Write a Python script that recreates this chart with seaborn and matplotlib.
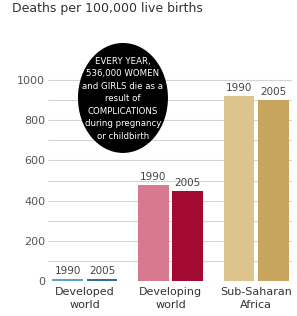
import numpy as np
import pandas as pd
import matplotlib
matplotlib.use('Agg')
import matplotlib.pyplot as plt
from matplotlib.patches import Ellipse
import seaborn as sns

# data
regions = ['Developed\nworld', 'Developing\nworld', 'Sub-Saharan\nAfrica']
years = ['1990', '2005']
deaths_1990 = [11, 480, 920]
deaths_2005 = [9, 450, 900]
bar_colors = [['#5fa3c4', '#2f7194'],
              ['#d7798f', '#a30a31'],
              ['#dcc48c', '#c7a55e']]

df = pd.DataFrame({
    'region': regions * 2,
    'year': [years[0]] * 3 + [years[1]] * 3,
    'deaths': deaths_1990 + deaths_2005,
})

sns.set_style('white')
plt.rcParams['font.family'] = ['DejaVu Sans']

fig = plt.figure(figsize=(2.97, 3.16), dpi=100)
ax = fig.add_axes([0.1616, 0.1108, 0.822, 0.6487])

sns.barplot(data=df, x='region', y='deaths', hue='year', order=regions,
            hue_order=years, width=0.8, gap=0.1, legend=False, ax=ax,
            saturation=1, edgecolor='none')

# per-bar colours and year labels
for i, cont in enumerate(ax.containers):
    for j, bar in enumerate(cont):
        bar.set_facecolor(bar_colors[j][i])
    ax.bar_label(cont, labels=[years[i]] * len(regions), padding=2,
                 fontsize=7.5, color='#444444')

ax.set_xlim(-0.43, 2.42)
ax.set_ylim(0, 1020)
ax.set_yticks(range(0, 1001, 100))
ax.set_yticklabels([str(v) if v % 200 == 0 else '' for v in range(0, 1001, 100)],
                   fontsize=8, color='#555555')
ax.yaxis.grid(True, color='#d4d4d4', lw=0.8)
ax.set_axisbelow(True)
ax.tick_params(axis='y', length=0, pad=2)
ax.tick_params(axis='x', length=0, pad=4, labelsize=8, labelcolor='#333333')
for lab in ax.get_xticklabels():
    lab.set_linespacing(1.45)
ax.set_xlabel('')
ax.set_ylabel('')
for s in ax.spines.values():
    s.set_visible(False)

fig.text(0.04, 0.972, 'Deaths per 100,000 live births', fontsize=9,
         color='#333333', va='center', ha='left')

# black callout
fig.add_artist(Ellipse((0.414, 0.69), 0.303, 0.348, transform=fig.transFigure,
                       facecolor='black', edgecolor='none', zorder=5))
fig.text(0.414, 0.688, 'EVERY YEAR,\n536,000 WOMEN\nand GIRLS die as a\nresult of\n'
         'COMPLICATIONS\nduring pregnancy\nor childbirth',
         ha='center', va='center', color='white', fontsize=6.2,
         linespacing=1.5, zorder=6)

fig.savefig('out.png', dpi=100)
